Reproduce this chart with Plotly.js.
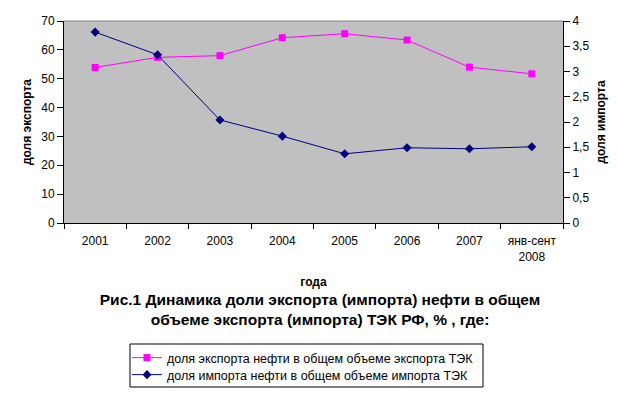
<!DOCTYPE html>
<html><head><meta charset="utf-8">
<script src="https://cdn.plot.ly/plotly-3.0.1.min.js"></script>
<style>body{margin:0;background:#fff}#c{width:617px;height:395px}</style>
</head><body><div id="c"></div>
<script>
const categories = ['2001','2002','2003','2004','2005','2006','2007','янв-сент<br>2008'];
const exportShare = [53.9, 57.4, 58.0, 64.2, 65.6, 63.4, 54.0, 51.7];
const importShare = [3.78, 3.33, 2.04, 1.72, 1.37, 1.49, 1.47, 1.51];
const exportName = 'доля экспорта нефти в общем объеме экспорта ТЭК';
const importName = 'доля импорта нефти в общем объеме импорта ТЭК';
const leftTicks = [0,10,20,30,40,50,60,70];
const rightTicks = [0,0.5,1,1.5,2,2.5,3,3.5,4];

const F = 'Liberation Sans, Arial, sans-serif';
const px = v => (v-64)/499;      // pixel x -> paper x
const py = v => (223-v)/202;     // pixel y -> paper y
const data = [
  {x: categories, y: exportShare, name: exportName, type:'scatter', mode:'lines+markers', legend:'legend',
   line:{color:'#ff00ff', width:1}, marker:{symbol:'square', size:7, color:'#ff00ff'}},
  {x: categories, y: importShare, name: importName, type:'scatter', mode:'lines+markers', yaxis:'y2', legend:'legend2',
   line:{color:'#000080', width:1}, marker:{symbol:'diamond', size:7, color:'#000080'}}
];
const legendBase = {xanchor:'left', yanchor:'middle', bgcolor:'rgba(0,0,0,0)', borderwidth:0,
  font:{size:12.5}, itemwidth:30};
const layout = {
  width:617, height:395, paper_bgcolor:'#fff', plot_bgcolor:'#c0c0c0',
  margin:{l:64, r:54, t:21, b:172, autoexpand:false},
  separators:', ',
  font:{family:F, size:12, color:'#000'},
  showlegend:true,
  title:{text:'<b>Рис.1 Динамика доли экспорта (импорта) нефти в общем<br>объеме экспорта (импорта) ТЭК РФ, % , где:</b>',
    font:{family:F, size:15.5, color:'#000'}, x:320/617, xanchor:'center', xref:'container',
    y:1-305/395, yref:'container', yanchor:'middle'},
  xaxis:{type:'category', showgrid:false, zeroline:false, showline:true, linecolor:'#000', linewidth:1,
    ticks:'outside', tickson:'boundaries', ticklen:5, tickcolor:'#000', tickfont:{size:12}, tickangle:0,
    ticklabelstandoff:7,
    title:{text:'<b>года</b>', font:{size:12}, standoff:14}, range:[-0.5,7.5]},
  yaxis:{range:[0,70], tickvals:leftTicks, showgrid:false, zeroline:false, showline:true, linecolor:'#000',
    ticks:'outside', ticklen:6, tickcolor:'#000', tickfont:{size:12},
    title:{text:'<b>доля экспорта</b>', font:{size:12}, standoff:7}},
  yaxis2:{range:[0,4], tickvals:rightTicks, overlaying:'y', side:'right', showgrid:false, zeroline:false,
    showline:true, linecolor:'#000', ticks:'outside', ticklen:6, tickcolor:'#000', tickfont:{size:12},
    title:{text:'<b>доля импорта</b>', font:{size:12}, standoff:8}},
  legend:Object.assign({}, legendBase, {x:px(127), y:py(358)}),
  legend2:Object.assign({}, legendBase, {x:px(127), y:py(375)}),
  shapes:[
    {type:'line', xref:'paper', yref:'paper', x0:0, x1:1, y0:1, y1:1, line:{color:'#808080', width:1}},
    {type:'rect', xref:'paper', yref:'paper', x0:px(130), x1:px(483), y0:py(344), y1:py(387),
     line:{color:'#000', width:1}, fillcolor:'rgba(0,0,0,0)'}
  ]
};
Plotly.newPlot('c', data, layout, {displayModeBar:false, staticPlot:true});
</script></body></html>
